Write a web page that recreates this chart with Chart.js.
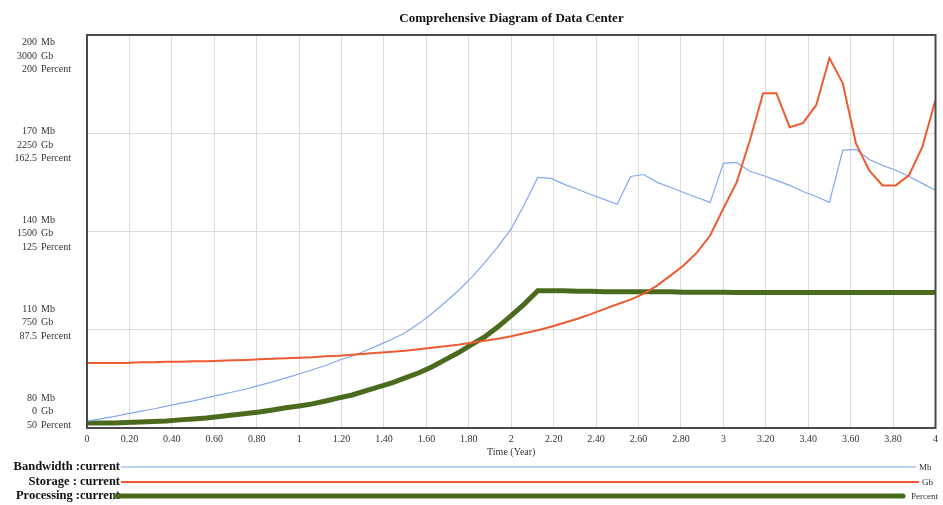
<!DOCTYPE html>
<html>
<head>
<meta charset="utf-8">
<script src="https://cdn.jsdelivr.net/npm/chart.js@4"></script>
<style>
  html, body { margin: 0; padding: 0; background: #fff; }
  #wrap { width: 943px; height: 505px; }
</style>
</head>
<body>
<div id="wrap"><canvas id="chart" width="943" height="505"></canvas></div>
<script>
// time axis (Year), one point per 1/16 year
const time = [0, 0.0625, 0.125, 0.1875, 0.25, 0.3125, 0.375, 0.4375, 0.5, 0.5625,
  0.625, 0.6875, 0.75, 0.8125, 0.875, 0.9375, 1, 1.0625, 1.125, 1.1875,
  1.25, 1.3125, 1.375, 1.4375, 1.5, 1.5625, 1.625, 1.6875, 1.75, 1.8125,
  1.875, 1.9375, 2, 2.0625, 2.125, 2.1875, 2.25, 2.3125, 2.375, 2.4375,
  2.5, 2.5625, 2.625, 2.6875, 2.75, 2.8125, 2.875, 2.9375, 3, 3.0625,
  3.125, 3.1875, 3.25, 3.3125, 3.375, 3.4375, 3.5, 3.5625, 3.625, 3.6875,
  3.75, 3.8125, 3.875, 3.9375, 4];

// Bandwidth (Mb)
const bandwidth = [82.1, 82.8, 83.5, 84.3, 85.1, 85.8, 86.7, 87.5, 88.3, 89.2,
  90.1, 91.0, 91.9, 93.0, 94.1, 95.3, 96.5, 97.8, 99.1, 100.7,
  102.0, 103.6, 105.3, 107.1, 109.1, 111.8, 114.9, 118.3, 121.9, 125.9,
  130.5, 135.4, 140.9, 148.3, 156.5, 156.2, 154.4, 152.9, 151.3, 149.8,
  148.3, 156.8, 157.4, 155.0, 153.5, 151.9, 150.4, 148.9, 160.8, 161.1,
  158.4, 157.1, 155.6, 154.1, 152.2, 150.7, 148.9, 164.8, 165.1, 162.0,
  160.2, 158.7, 156.8, 154.7, 152.6];

// Storage (Gb)
const storage = [497, 497, 497, 497, 501, 501, 505, 505, 509, 509,
  513, 517, 520, 524, 528, 532, 536, 540, 547, 551,
  559, 566, 574, 582, 589, 601, 612, 624, 635, 651,
  666, 681, 700, 723, 746, 773, 804, 834, 869, 907,
  945, 980, 1026, 1087, 1163, 1240, 1339, 1469, 1676, 1875,
  2196, 2556, 2556, 2296, 2327, 2464, 2824, 2633, 2173, 1967,
  1852, 1852, 1929, 2143, 2503];

// Processing (Percent)
const processing = [51.9, 51.9, 51.9, 52.1, 52.3, 52.5, 52.7, 53.1, 53.4, 53.8,
  54.4, 55.0, 55.5, 56.1, 56.9, 57.7, 58.4, 59.2, 60.3, 61.5,
  62.6, 64.2, 65.7, 67.2, 69.1, 71.0, 73.3, 76.0, 78.7, 81.8,
  84.8, 88.6, 92.9, 97.4, 102.4, 102.4, 102.4, 102.2, 102.2, 102.0,
  102.0, 102.0, 102.0, 102.0, 102.0, 101.8, 101.8, 101.8, 101.8, 101.7,
  101.7, 101.7, 101.7, 101.7, 101.7, 101.7, 101.7, 101.7, 101.7, 101.7,
  101.7, 101.7, 101.7, 101.7, 101.7];

// left axis tick labels, top to bottom
const mbTicks = ['200', '170', '140', '110', '80'];
const gbTicks = ['3000', '2250', '1500', '750', '0'];
const pctTicks = ['200', '162.5', '125', '87.5', '50'];

const seriesNames = ['Bandwidth :current', 'Storage : current', 'Processing :current'];
const seriesUnits = ['Mb', 'Gb', 'Percent'];

const SERIF = '"Liberation Serif", "Times New Roman", serif';
const toXY = vals => vals.map((v, i) => ({ x: time[i], y: v }));

const decor = {
  id: 'decor',
  afterDatasetsDraw(chart) {
    const { ctx, chartArea: a } = chart;
    ctx.save();
    ctx.strokeStyle = '#4a4a4a';
    ctx.lineWidth = 2;
    ctx.strokeRect(a.left, a.top, a.right - a.left, a.bottom - a.top);
    ctx.restore();
  },
  afterDraw(chart) {
    const { ctx, chartArea: a } = chart;
    ctx.save();
    // stacked unit labels on the left
    ctx.font = '10px ' + SERIF;
    ctx.fillStyle = '#333';
    ctx.textBaseline = 'middle';
    const step = (a.bottom - a.top - 37.5) / 4;
    for (let k = 0; k < 5; k++) {
      const cy = a.top + 21 + k * step;
      const rows = [[mbTicks[k], 'Mb'], [gbTicks[k], 'Gb'], [pctTicks[k], 'Percent']];
      rows.forEach((r, j) => {
        const y = cy + (j - 1) * 13.5;
        ctx.textAlign = 'right';
        ctx.fillText(r[0], 37, y);
        ctx.textAlign = 'left';
        ctx.fillText(r[1], 41, y);
      });
    }
    // legend rows
    const rowY = [467, 482, 496];
    const lineEnd = [916, 919, 903];
    const lineW = [1.5, 2, 5];
    const legendCols = ['#a9c6f5', '#ee5a32', '#4b6a1e'];
    chart.data.datasets.forEach((ds, i) => {
      ctx.font = 'bold 12.5px ' + SERIF;
      ctx.fillStyle = '#111';
      ctx.textAlign = 'right';
      ctx.fillText(seriesNames[i], 120, rowY[i]);
      ctx.beginPath();
      ctx.strokeStyle = legendCols[i];
      ctx.lineWidth = lineW[i];
      ctx.lineCap = i === 2 ? 'round' : 'butt';
      ctx.moveTo(i === 2 ? 116 : 121, rowY[i]);
      ctx.lineTo(lineEnd[i], rowY[i]);
      ctx.stroke();
      ctx.font = '9px ' + SERIF;
      ctx.fillStyle = '#333';
      ctx.textAlign = 'left';
      ctx.fillText(seriesUnits[i], lineEnd[i] + (i === 2 ? 8 : 3), rowY[i] + 1);
    });
    ctx.restore();
  }
};

new Chart(document.getElementById('chart'), {
  type: 'line',
  data: {
    datasets: [
      { label: 'Bandwidth', data: toXY(bandwidth), yAxisID: 'yMb', borderColor: '#82a8f0', borderWidth: 1.2, pointRadius: 0, order: 1 },
      { label: 'Storage', data: toXY(storage), yAxisID: 'yGb', borderColor: '#ee5a32', borderWidth: 2, pointRadius: 0, order: 0 },
      { label: 'Processing', data: toXY(processing), yAxisID: 'yPct', borderColor: '#4b6a1e', borderWidth: 5, pointRadius: 0, order: 2 }
    ]
  },
  options: {
    responsive: false,
    animation: false,
    layout: { padding: { left: 87, right: 7, top: 0, bottom: 47 } },
    plugins: {
      legend: { display: false },
      tooltip: { enabled: false },
      title: {
        display: true,
        text: 'Comprehensive Diagram of Data Center',
        color: '#111',
        font: { family: SERIF, size: 13, weight: 'bold' },
        padding: { top: 10.5, bottom: 8.9 }
      }
    },
    scales: {
      x: {
        type: 'linear',
        min: 0,
        max: 4,
        ticks: {
          stepSize: 0.2,
          padding: 5,
          maxRotation: 0,
          autoSkip: false,
          color: '#333',
          font: { family: SERIF, size: 10 },
          callback: v => Math.abs(v - Math.round(v)) < 1e-9 ? String(Math.round(v)) : v.toFixed(2)
        },
        grid: { color: '#dcdcdc', drawTicks: false },
        border: { display: false },
        title: {
          display: true,
          text: 'Time (Year)',
          color: '#333',
          font: { family: SERIF, size: 10 },
          padding: { top: -4, bottom: 0 }
        }
      },
      yMb: {
        position: 'left',
        min: 80,
        max: 200,
        ticks: { display: false, stepSize: 30 },
        grid: { color: '#dcdcdc', drawTicks: false },
        border: { display: false }
      },
      yGb: { display: false, min: 0, max: 3000 },
      yPct: { display: false, min: 50, max: 200 }
    }
  },
  plugins: [decor]
});
</script>
</body>
</html>
